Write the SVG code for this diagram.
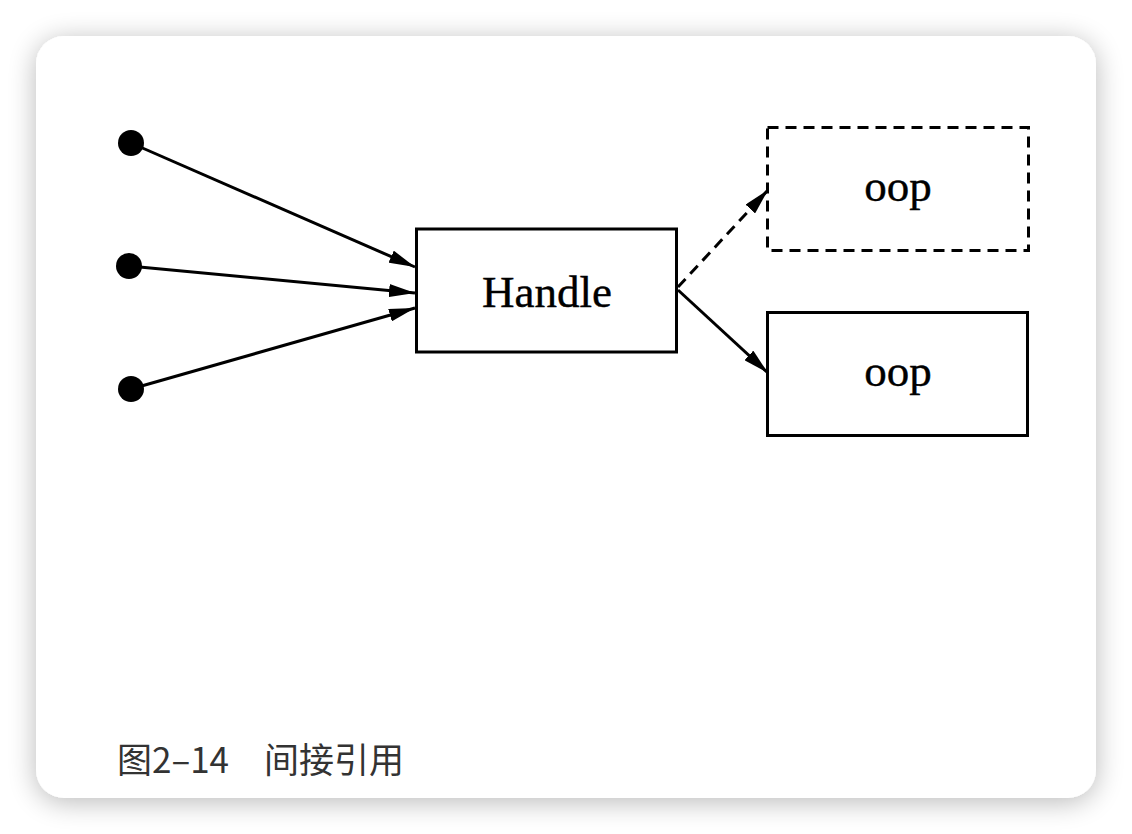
<svg xmlns="http://www.w3.org/2000/svg" width="1132" height="834" viewBox="0 0 1132 834">
  <defs>
    <filter id="shadow" x="-10%" y="-10%" width="120%" height="120%">
      <feGaussianBlur in="SourceAlpha" stdDeviation="14"/>
      <feOffset dx="0" dy="4" result="b"/>
      <feComponentTransfer><feFuncA type="linear" slope="0.28"/></feComponentTransfer>
      <feMerge><feMergeNode/><feMergeNode in="SourceGraphic"/></feMerge>
    </filter>
    <marker id="arrow" viewBox="0 0 26 13" refX="26" refY="6.5" markerWidth="26" markerHeight="13" markerUnits="userSpaceOnUse" orient="auto">
      <path d="M0,0 L26,6.5 L0,13 Z" fill="#000"/>
    </marker>
    <style>
      .box { fill: #fff; stroke: #000; stroke-width: 3; }
      .dashed { stroke-dasharray: 11 7; }
      .label { font-family: "Liberation Serif", "Times New Roman", serif; font-size: 45px; fill: #000; text-anchor: middle; stroke: #000; stroke-width: 0.4; }
      .edge { stroke: #000; stroke-width: 3; fill: none; marker-end: url(#arrow); }
      .dot { fill: #000; }
      .caption { font-family: "Noto Sans CJK SC", "Noto Sans", sans-serif; font-size: 35px; fill: #333; }
    </style>
  </defs>
  <rect x="0" y="0" width="1132" height="834" fill="#fff"/>
  <rect x="36" y="36" width="1060" height="762" rx="28" ry="28" fill="#fff" filter="url(#shadow)"/>

  <g id="connectors">
    <line class="edge" x1="131" y1="143" x2="415" y2="267"/>
    <line class="edge" x1="129" y1="266" x2="415" y2="293"/>
    <line class="edge" x1="131" y1="389" x2="415" y2="308"/>
    <line class="edge dashed" x1="678" y1="287" x2="768" y2="190"/>
    <line class="edge" x1="678" y1="290" x2="768" y2="373"/>
  </g>

  <g id="dot1"><circle class="dot" cx="131" cy="143" r="13"/></g>
  <g id="dot2"><circle class="dot" cx="129" cy="266" r="13"/></g>
  <g id="dot3"><circle class="dot" cx="131" cy="389" r="13"/></g>

  <g id="handle">
    <rect class="box" x="416.5" y="229" width="260" height="123"/>
    <text class="label" x="547" y="307">Handle</text>
  </g>
  <g id="oop-dashed">
    <rect class="box dashed" x="767.5" y="127.5" width="261" height="123"/>
    <text class="label" x="898" y="201">oop</text>
  </g>
  <g id="oop-solid">
    <rect class="box" x="767.5" y="312.5" width="260" height="123"/>
    <text class="label" x="898" y="386">oop</text>
  </g>

  <g id="caption">
    <text class="caption" x="117" y="773">图2–14　间接引用</text>
  </g>
</svg>
